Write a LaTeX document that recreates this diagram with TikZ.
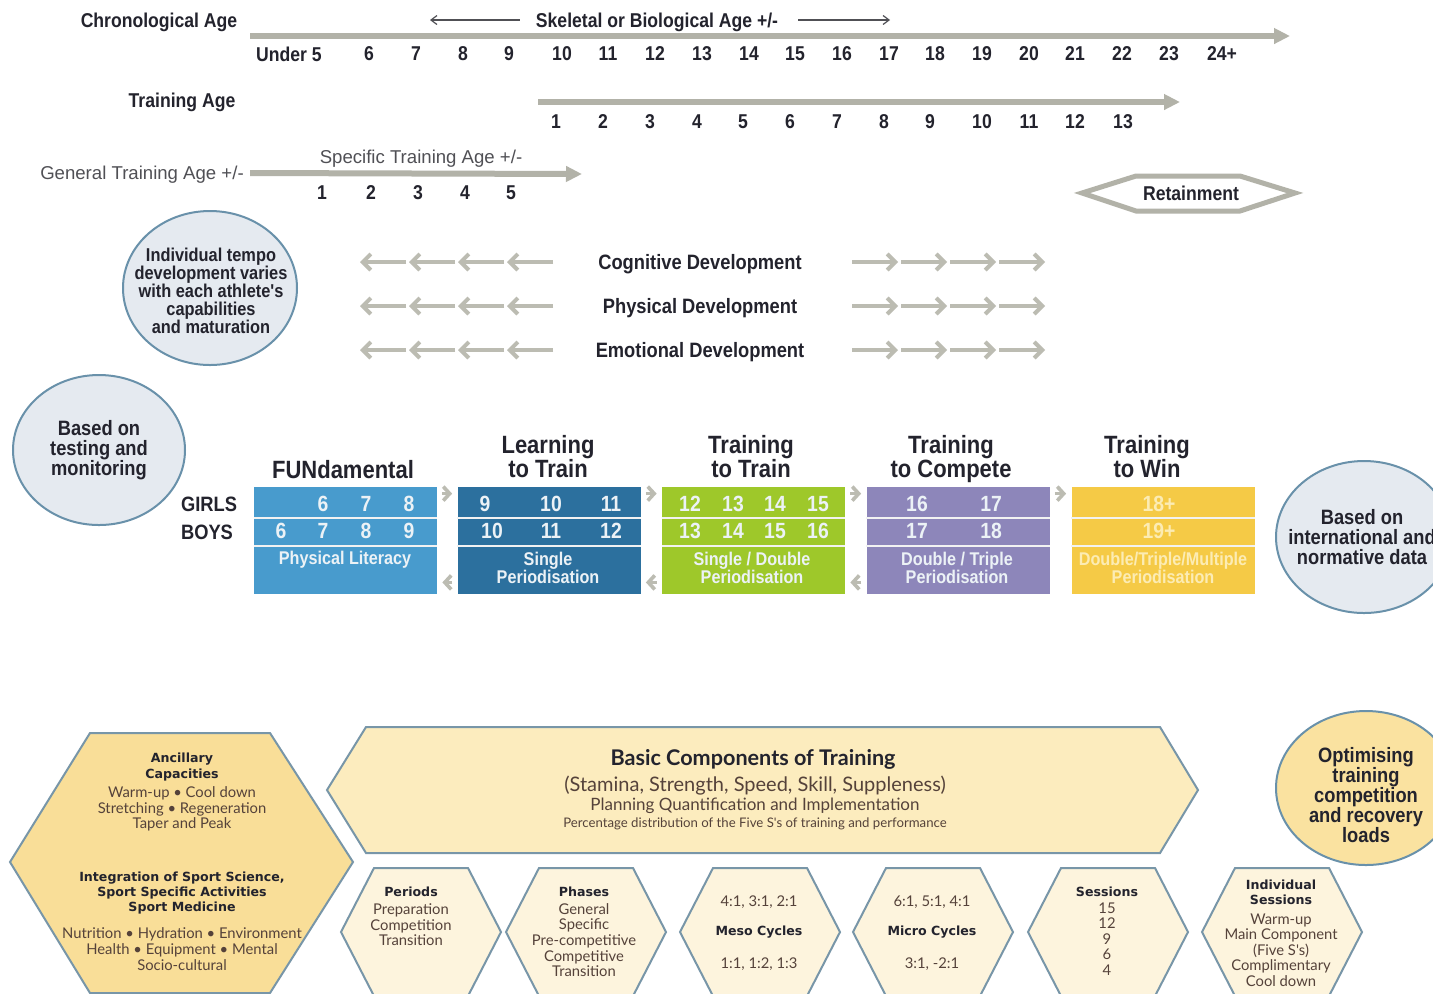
\documentclass[tikz,border=0pt]{standalone}
\usepackage{fontspec}
\setmainfont{Liberation Sans}
\newfontfamily\narrowfont[FakeStretch=0.88]{Liberation Sans}
\newfontfamily\latofont{Lato}
\newfontfamily\dejafont{DejaVu Sans}
\usetikzlibrary{arrows.meta,shapes.geometric}

\definecolor{inkdark}{RGB}{35,35,45}
\definecolor{inkgray}{RGB}{80,80,85}
\definecolor{axisgray}{RGB}{178,178,168}
\definecolor{devgray}{RGB}{188,188,178}
\definecolor{bubblefill}{RGB}{229,234,240}
\definecolor{bubbleline}{RGB}{105,145,170}
\definecolor{funblue}{RGB}{72,155,205}
\definecolor{lttblue}{RGB}{44,112,158}
\definecolor{tttgreen}{RGB}{158,200,42}
\definecolor{ttcpurple}{RGB}{141,134,186}
\definecolor{ttwyellow}{RGB}{245,202,70}
\definecolor{ttwtext}{RGB}{252,236,180}
\definecolor{boxtext}{RGB}{236,242,246}
\definecolor{hexline}{RGB}{120,150,168}
\definecolor{ancfill}{RGB}{249,222,152}
\definecolor{basicfill}{RGB}{252,236,190}
\definecolor{smallfill}{RGB}{253,244,221}
\definecolor{optfill}{RGB}{250,226,160}
\definecolor{hexink}{RGB}{85,66,58}

\tikzset{
  axislabel/.style={font=\narrowfont\bfseries\fontsize{10}{12}\selectfont, text=inkdark, inner sep=0pt},
  axisnum/.style={font=\narrowfont\bfseries\fontsize{10}{12}\selectfont, text=inkdark, inner sep=0pt},
  thinlabel/.style={font=\fontsize{9.3}{11}\selectfont, text=inkgray, inner sep=0pt},
  axisarrow/.style={draw=axisgray, line width=3pt, -{Triangle[length=8pt,width=7.5pt]}},
  thinarrow/.style={draw=inkgray, line width=0.6pt, -{Straight Barb[length=3pt,width=4.5pt]}},
  devlabel/.style={font=\narrowfont\bfseries\fontsize{10.4}{12}\selectfont, text=inkdark, inner sep=0pt},
  devarrow/.style={draw=devgray, line width=2pt, -{Straight Barb[length=4pt,width=8pt]}},
  bubble/.style={ellipse, draw=bubbleline, line width=1pt, fill=bubblefill, inner sep=0pt},
  bubbletext/.style={font=\narrowfont\bfseries\fontsize{9.3}{9}\selectfont, text=inkdark, align=center, inner sep=0pt},
  stagetitle/.style={font=\narrowfont\bfseries\fontsize{12.5}{12}\selectfont, text=inkdark, align=center, inner sep=0pt},
  stagebox/.style={minimum width=91.5pt, minimum height=53.5pt, inner sep=0pt},
  sepline/.style={draw=white!90!gray, line width=1pt},
  boxnum/.style={font=\narrowfont\bfseries\fontsize{11}{12}\selectfont, text=boxtext, inner sep=0pt},
  boxnote/.style={font=\narrowfont\bfseries\fontsize{9.2}{9}\selectfont, text=boxtext, align=center, inner sep=0pt},
  gapchev/.style={draw=devgray, line width=1.8pt, shorten <=2.5pt, shorten >=2.5pt, -{Straight Barb[length=3.2pt,width=7pt]}},
  rowlabel/.style={font=\narrowfont\bfseries\fontsize{10.4}{12}\selectfont, text=inkdark, inner sep=0pt},
  hexframe/.style={draw=hexline, line width=1pt, line join=miter},
  hexhead/.style={font=\dejafont\bfseries\fontsize{6.3}{7.6}\selectfont, text=inkdark, align=center, inner sep=0pt},
  hextext/.style={font=\latofont\fontsize{7.4}{7.8}\selectfont, text=hexink, align=center, inner sep=0pt},
  retainframe/.style={draw=axisgray, line width=2.5pt, fill=white, line join=miter}
}

\begin{document}
\begin{tikzpicture}[x=0.5pt,y=-0.5pt]
\useasboundingbox (0,0) rectangle (1433,993);
\fill[white] (0,0) rectangle (1433,993);
\clip (0,0) rectangle (1433,993);

% ages along the top
\node[axislabel] (chrono) at (159,22) {Chronological Age};
\node[axislabel] (skel) at (657,22) {Skeletal or Biological Age +/-};
\coordinate (skelL) at (430,20);
\coordinate (skelR) at (890,20);
\draw[thinarrow] ([xshift=-8pt,yshift=1pt]skel.west) -- (skelL);
\draw[thinarrow] ([xshift=10pt,yshift=1pt]skel.east) -- (skelR);
\draw[axisarrow] (250,36) -- (1290,36);
\foreach \x/\t [count=\i] in {289/Under 5,369/6,416/7,463/8,509/9,562/10,608/11,655/12,702/13,749/14,795/15,842/16,889/17,935/18,982/19,1029/20,1075/21,1122/22,1169/23,1222/24+}
  \node[axisnum] (chr\i) at (\x,54) {\t};

\node[axislabel] (train) at (182,102) {Training Age};
\draw[axisarrow] (538,102) -- (1180,102);
\foreach \x/\t [count=\i] in {556/1,603/2,650/3,697/4,743/5,790/6,837/7,884/8,930/9,982/10,1029/11,1075/12,1123/13}
  \node[axisnum] (trn\i) at (\x,122) {\t};

\node[thinlabel] (spec) at (421,159) {Specific Training Age +/-};
\node[thinlabel] (gen) at (142,175) {General Training Age +/-};
\draw[axisarrow] ([xshift=3pt,yshift=1pt]gen.east) -- (582,174);
\foreach \x/\t [count=\i] in {322/1,371/2,418/3,465/4,511/5}
  \node[axisnum] (spc\i) at (\x,193) {\t};

% retainment
\draw[retainframe] (1082,193) -- (1136,176) -- (1240,176) -- (1295,193) -- (1240,211) -- (1136,211) -- cycle;
\node[axislabel] (retain) at (1191,193) {Retainment};

% development rows
\node[bubble, minimum width=87pt, minimum height=77pt] (tempo) at (210,288) {};
\node[bubbletext] (tempotx) at (211,291) {Individual tempo\\development varies\\with each athlete's\\capabilities\\and maturation};

\node[devlabel] (cog) at (700,264) {Cognitive Development};
\node[devlabel] (phys) at (700,308) {Physical Development};
\node[devlabel] (emo) at (700,352) {Emotional Development};
\foreach \y in {262,306,350}{
  \foreach \i in {0,...,3}{
    \draw[devarrow] ({553-49*\i},\y) -- ({553-49*\i-46},\y);
    \draw[devarrow] ({852+49*\i},\y) -- ({852+49*\i+46},\y);
  }
}

% stages
\node[bubble, minimum width=86pt, minimum height=75pt] (testing) at (99,450) {};
\node[bubbletext, font=\narrowfont\bfseries\fontsize{10.4}{10}\selectfont] (testingtx) at (99,450) {Based on\\testing and\\monitoring};

\node[stagetitle] (tfun) at (343,470) {FUNdamental};
\node[stagetitle] (tltt) at (548,457) {Learning\\to Train};
\node[stagetitle] (tttt) at (751,457) {Training\\to Train};
\node[stagetitle] (tttc) at (951,459) {Training\\to Compete};
\node[stagetitle] (tttw) at (1147,457) {Training\\to Win};

\node[rowlabel] (girls) at (209,504) {GIRLS};
\node[rowlabel] (boys) at (207,532) {BOYS};

\node[stagebox, fill=funblue] (fun) at (345.5,540.5) {};
\node[stagebox, fill=lttblue] (ltt) at (549,540.5) {};
\node[stagebox, fill=tttgreen] (ttt) at (753.5,540.5) {};
\node[stagebox, fill=ttcpurple] (ttc) at (958,540.5) {};
\node[stagebox, fill=ttwyellow] (ttw) at (1163,540.5) {};
\foreach \b in {fun,ltt,ttt,ttc,ttw}{
  \draw[sepline] ([yshift=-15.5pt]\b.north west) -- ([yshift=-15.5pt]\b.north east);
  \draw[sepline] ([yshift=-29.5pt]\b.north west) -- ([yshift=-29.5pt]\b.north east);
}

\draw[gapchev] ([yshift=-3.5pt]fun.north east) -- ([yshift=-3.5pt]ltt.north west);
\draw[gapchev] ([yshift=-3.5pt]ltt.north east) -- ([yshift=-3.5pt]ttt.north west);
\draw[gapchev] ([yshift=-3.5pt]ttt.north east) -- ([yshift=-3.5pt]ttc.north west);
\draw[gapchev] ([yshift=-3.5pt]ttc.north east) -- ([yshift=-3.5pt]ttw.north west);
\draw[gapchev] ([yshift=6pt]ltt.south west) -- ([yshift=6pt]fun.south east);
\draw[gapchev] ([yshift=6pt]ttt.south west) -- ([yshift=6pt]ltt.south east);
\draw[gapchev] ([yshift=6pt]ttc.south west) -- ([yshift=6pt]ttt.south east);

\foreach \x/\t [count=\i] in {323/6,366/7,409/8,485/9,551/10,611/11,690/12,733/13,775/14,818/15,917/16,991/17}
  \node[boxnum] (gnum\i) at (\x,504) {\t};
\foreach \x/\t [count=\i] in {281/6,323/7,366/8,409/9,492/10,551/11,611/12,690/13,733/14,775/15,818/16,917/17,991/18}
  \node[boxnum] (bnum\i) at (\x,531) {\t};
\node[boxnum, text=ttwtext] (gwin) at (1159,504) {18+};
\node[boxnum, text=ttwtext] (bwin) at (1159,531) {19+};

\node[boxnote] (nfun) at (345,560) {Physical Literacy};
\node[boxnote] (nltt) at (548,568) {Single\\Periodisation};
\node[boxnote] (nttt) at (752,568) {Single / Double\\Periodisation};
\node[boxnote] (nttc) at (957,568) {Double / Triple\\Periodisation};
\node[boxnote, text=ttwtext] (nttw) at (1163,568) {Double/Triple/Multiple\\Periodisation};

\node[bubble, minimum width=88pt, minimum height=76pt] (normative) at (1364,537) {};
\node[bubbletext, font=\narrowfont\bfseries\fontsize{10.4}{9.8}\selectfont] (normativetx) at (1362,537) {Based on\\international and\\normative data};

% planning hexagons
\draw[hexframe, fill=ancfill] (10,862) -- (90,733) -- (270,733) -- (353,862) -- (270,993) -- (90,993) -- cycle;
\node[hexhead] (anchd) at (182,767) {Ancillary\\Capacities};
\node[hextext] (anctx) at (182,809) {Warm-up • Cool down\\Stretching • Regeneration\\Taper and Peak};
\node[hexhead] (inthd) at (182,893) {Integration of Sport Science,\\Sport Specific Activities\\Sport Medicine};
\node[hextext] (inttx) at (182,949) {Nutrition • Hydration • Environment\\Health • Equipment • Mental\\Socio-cultural};

\draw[hexframe, fill=basicfill] (327,790) -- (366,727) -- (1160,727) -- (1198,790) -- (1160,853) -- (366,853) -- cycle;
\node[font=\latofont\bfseries\fontsize{10.8}{12}\selectfont, text=inkdark, inner sep=0pt] (bctitle) at (753,759) {Basic Components of Training};
\node[font=\latofont\fontsize{10}{12}\selectfont, text=hexink, inner sep=0pt] (bcsub) at (755,786) {(Stamina, Strength, Speed, Skill, Suppleness)};
\node[font=\latofont\fontsize{8.5}{10}\selectfont, text=hexink, inner sep=0pt] (bcplan) at (755,806) {Planning Quantification and Implementation};
\node[font=\latofont\fontsize{6.6}{8}\selectfont, text=hexink, inner sep=0pt] (bcnote) at (755,824) {Percentage distribution of the Five S's of training and performance};

\node[bubble, fill=optfill, minimum width=90pt, minimum height=77pt] (optim) at (1366,788) {};
\node[bubbletext, font=\narrowfont\bfseries\fontsize{10.4}{10}\selectfont] (optimtx) at (1366,795) {Optimising\\training\\competition\\and recovery\\loads};

\foreach \c in {421,586,760,933,1108,1282}
  \draw[hexframe, fill=smallfill] ({\c-80},932) -- ({\c-47},868) -- ({\c+47},868) -- ({\c+80},932) -- ({\c+47},996) -- ({\c-47},996) -- cycle;

\node[hexhead] (perhd) at (411,892) {Periods};
\node[hextext] (pertx) at (411,925) {Preparation\\Competition\\Transition};
\node[hexhead] (phahd) at (584,892) {Phases};
\node[hextext] (phatx) at (584,940) {General\\Specific\\Pre-competitive\\Competitive\\Transition};
\node[hextext] (mesoup) at (759,902) {4:1, 3:1, 2:1};
\node[hexhead] (mesohd) at (759,932) {Meso Cycles};
\node[hextext] (mesolo) at (759,964) {1:1, 1:2, 1:3};
\node[hextext] (microup) at (932,902) {6:1, 5:1, 4:1};
\node[hexhead] (microhd) at (932,932) {Micro Cycles};
\node[hextext] (microlo) at (932,964) {3:1, -2:1};
\node[hexhead] (seshd) at (1107,892) {Sessions};
\node[hextext] (sestx) at (1107,939) {15\\12\\9\\6\\4};
\node[hexhead] (indhd) at (1281,892) {Individual\\Sessions};
\node[hextext] (indtx) at (1281,950) {Warm-up\\Main Component\\(Five S's)\\Complimentary\\Cool down};
\end{tikzpicture}
\end{document}
